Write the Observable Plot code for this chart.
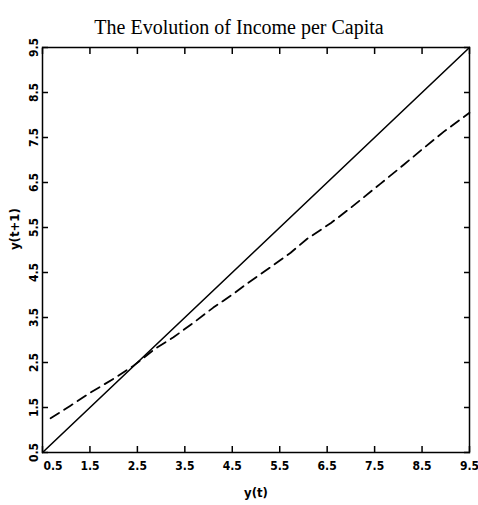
<!DOCTYPE html>
<html>
<head>
<meta charset="utf-8">
<script src="https://cdn.jsdelivr.net/npm/d3@7"></script>
<script src="https://cdn.jsdelivr.net/npm/@observablehq/plot@0.6"></script>
<style>
  html, body { margin: 0; padding: 0; background: #fff; }
  #chart svg { display: block; }
</style>
</head>
<body>
<div id="chart"></div>
<script>
const titleText = "The Evolution of Income per Capita";
const xTitle = "y(t)";
const yTitle = "y(t+1)";
const tickValues = [0.5, 1.5, 2.5, 3.5, 4.5, 5.5, 6.5, 7.5, 8.5, 9.5];
const tickLabels = ["0.5", "1.5", "2.5", "3.5", "4.5", "5.5", "6.5", "7.5", "8.5", "9.5"];

// 45-degree line
const diagX = [0.5, 9.5];
const diagY = [0.5, 9.5];

// dashed curve y(t+1) = f(y(t))
const curveX = [0.67, 1.09, 1.51, 2.0, 2.42, 2.88, 3.26, 3.69, 4.1, 4.53, 4.82, 5.31, 5.73, 6.08, 6.58, 7.0, 7.62, 8.12, 8.54, 8.96, 9.5];
const curveY = [1.26, 1.54, 1.83, 2.14, 2.43, 2.81, 3.06, 3.39, 3.72, 4.03, 4.26, 4.62, 4.94, 5.25, 5.6, 5.94, 6.47, 6.9, 7.27, 7.63, 8.05];

const diag = diagX.map((x, i) => ({x, y: diagY[i]}));
const curve = curveX.map((x, i) => ({x, y: curveY[i]}));
const ticks = tickValues.map((v, i) => ({v, label: tickLabels[i]}));

const labelFont = "'Liberation Sans Narrow', 'DejaVu Sans Condensed', 'Liberation Sans', sans-serif";

const chart = Plot.plot({
  width: 478,
  height: 505,
  marginLeft: 42,
  marginRight: 9,
  marginTop: 47,
  marginBottom: 53,
  x: {domain: [0.5, 9.5], axis: null},
  y: {domain: [0.5, 9.5], axis: null},
  style: {fontFamily: labelFont, color: "black", background: "white"},
  marks: [
    Plot.axisX(tickValues, {anchor: "bottom", tickSize: -6, text: null, strokeWidth: 1.5}),
    Plot.axisX(tickValues, {anchor: "top", tickSize: -6, text: null, strokeWidth: 1.5}),
    Plot.axisY(tickValues, {anchor: "left", tickSize: -6, text: null, strokeWidth: 1.5}),
    Plot.axisY(tickValues, {anchor: "right", tickSize: -6, text: null, strokeWidth: 1.5}),
    Plot.frame({stroke: "black", strokeWidth: 1.5}),
    Plot.line(diag, {x: "x", y: "y", stroke: "black", strokeWidth: 1.6}),
    Plot.line(curve, {x: "x", y: "y", stroke: "black", strokeWidth: 1.8, strokeDasharray: "10,6", curve: "linear"}),
    // x tick labels
    Plot.text(ticks.slice(1), {x: "v", text: "label", frameAnchor: "bottom", dy: 17, fontSize: 12, fontWeight: "bold", fill: "black"}),
    Plot.text(ticks.slice(0, 1), {x: "v", text: "label", frameAnchor: "bottom", dy: 17, dx: 1, textAnchor: "start", fontSize: 12, fontWeight: "bold", fill: "black"}),
    // y tick labels
    Plot.text(ticks, {y: "v", text: "label", frameAnchor: "left", dx: -8, rotate: -90, textAnchor: "middle", fontSize: 12, fontWeight: "bold", fill: "black"}),
    // axis titles
    Plot.text([xTitle], {text: d => d, frameAnchor: "bottom", dy: 44, fontSize: 13, fontWeight: "bold", fill: "black"}),
    Plot.text([yTitle], {text: d => d, frameAnchor: "left", dx: -28, rotate: -90, fontSize: 13, fontWeight: "bold", fill: "black"}),
    // chart title
    Plot.text([titleText], {text: d => d, frameAnchor: "top", dy: -28, dx: -17, fontSize: 20, fontFamily: "'Liberation Serif', 'Times New Roman', serif", fill: "black"})
  ]
});
document.getElementById("chart").appendChild(chart);
</script>
</body>
</html>
